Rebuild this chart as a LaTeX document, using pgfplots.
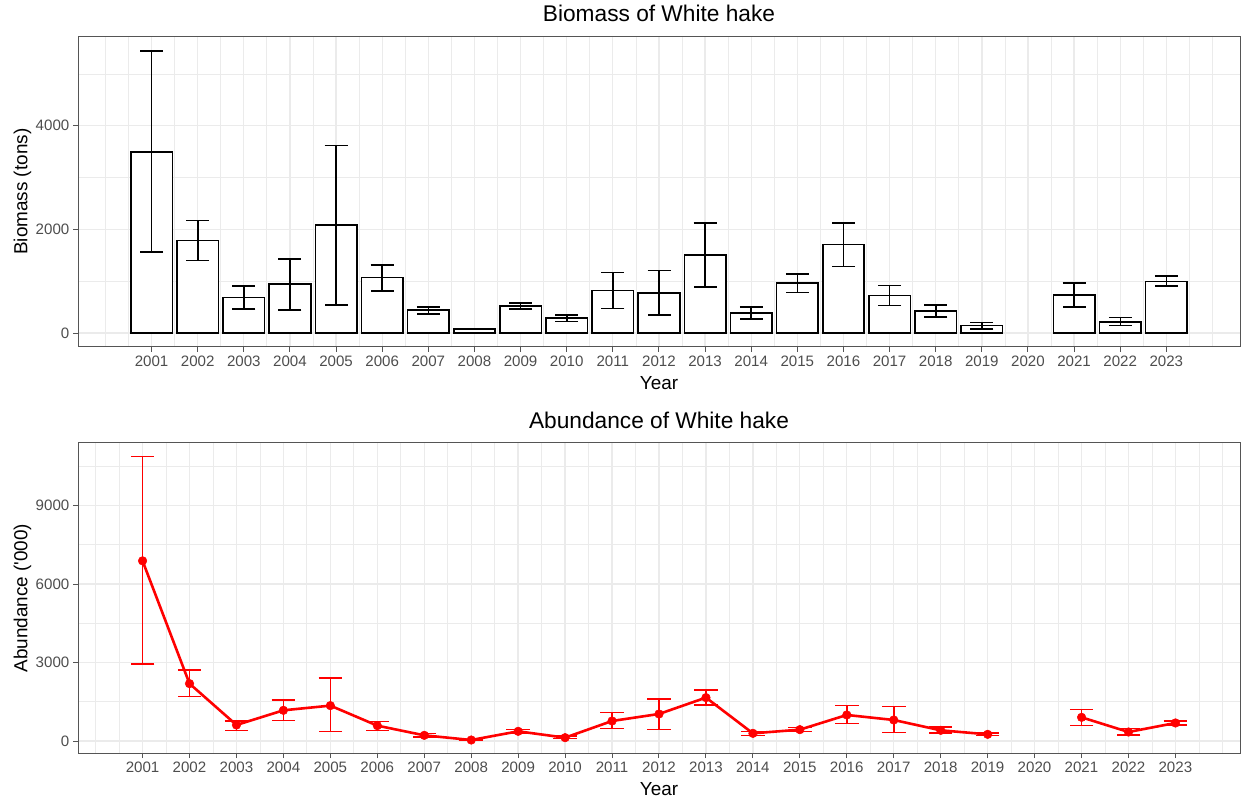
\documentclass[border=0pt]{standalone}
\usepackage{pgfplots}
\usepackage{pgfplotstable}
\pgfplotsset{compat=1.18}
\usepackage{fontspec}
\setmainfont{Liberation Sans}
\definecolor{gridc}{HTML}{EBEBEB}
\definecolor{tickc}{HTML}{4D4D4D}
\definecolor{borderc}{HTML}{555555}
\definecolor{hred}{HTML}{FF0000}

\pgfplotstableread{
year val lo hi
2001 3494 1558 5442
2002 1788 1397 2173
2003 686 462 910
2004 942 449 1430
2005 2083 545 3615
2006 1070 814 1314
2007 442 365 506
2008 77 72 82
2009 526 468 583
2010 288 224 346
2011 820 474 1167
2012 776 353 1205
2013 1500 891 2122
2014 385 269 500
2015 962 782 1141
2016 1705 1282 2128
2017 724 532 917
2018 423 314 545
2019 141 83 199
2021 731 506 962
2022 218 141 301
2023 994 904 1096
}\biomass

\pgfplotstableread{
year val lo hi
2001 6885 2933 10876
2002 2193 1696 2716
2003 612 395 765
2004 1173 778 1568
2005 1352 357 2397
2006 587 408 752
2007 217 153 293
2008 38 20 60
2009 370 293 446
2010 128 89 191
2011 765 485 1084
2012 1033 446 1607
2013 1658 1377 1951
2014 293 217 370
2015 434 357 510
2016 995 676 1352
2017 803 332 1313
2018 408 306 536
2019 255 217 306
}\abundA

\pgfplotstableread{
year val lo hi
2021 905 587 1211
2022 344 230 485
2023 689 612 765
}\abundB

\pgfplotsset{
  hake/.style={
    scale only axis, width=1162pt, height=310.6pt,
    axis line style={borderc, line width=1.0pt},
    tick style={borderc, line width=1.0pt},
    tick align=outside, major tick length=4.7pt, minor tick length=0pt,
    xtick pos=bottom, ytick pos=left,
    scaled ticks=false,
    xtick={2001,...,2023},
    minor xtick={2000,2000.5,...,2024},
    grid=both,
    major grid style={gridc, line width=1.3pt},
    minor grid style={gridc, line width=0.8pt},
    /pgf/number format/1000 sep={},
    /pgf/number format/assume math mode=true,
    ticklabel style={font=\fontsize{15.1}{18}\selectfont, text=tickc, inner sep=0pt},
    xticklabel style={yshift=-3.8pt},
    yticklabel style={xshift=-3.8pt},
    label style={font=\fontsize{18.9}{22}\selectfont},
    xlabel={Year},
    xlabel style={at={(axis description cs:0.5,0)}, anchor=base, yshift=-42.5pt},
    ylabel style={at={(axis description cs:-0.04363,0.5)}, anchor=base},
    title style={font=\fontsize{22.7}{26}\selectfont, at={(axis description cs:0.5,1)}, anchor=base, yshift=8.5pt},
  }
}

\begin{document}
\begin{tikzpicture}
\path[use as bounding box] (0,0) rectangle (1241pt,803pt);

\begin{axis}[hake,
  at={(78pt,456pt)}, anchor=south west,
  xmin=1999.405, xmax=2024.595,
  ymin=-270, ymax=5724,
  ytick={0,2000,4000}, minor ytick={1000,3000,5000},
  title={Biomass of White hake},
  ylabel={Biomass (tons)},
]
\addplot[ybar, bar width=0.9, bar shift=0pt, fill=white, draw=black, line width=1.6pt,
  error bars/.cd, y dir=both, y explicit,
  error bar style={black, line width=1.6pt},
  error mark options={black, line width=1.6pt, mark size=11.5pt, rotate=90}]
  table[x=year, y=val, y error plus expr=\thisrow{hi}-\thisrow{val}, y error minus expr=\thisrow{val}-\thisrow{lo}] {\biomass};
\end{axis}

\begin{axis}[hake,
  at={(78pt,49.7pt)}, anchor=south west,
  xmin=1999.625, xmax=2024.375,
  ymin=-470, ymax=11400,
  ytick={0,3000,6000,9000}, minor ytick={1500,4500,7500,10500},
  title={Abundance of White hake},
  ylabel={Abundance (\textquotesingle000)},
]
\addplot[hred, line width=2.6pt, mark=*, mark size=4.3pt, mark options={fill=hred, draw=hred, line width=0.5pt},
  error bars/.cd, y dir=both, y explicit,
  error bar style={hred, line width=1.6pt},
  error mark options={hred, line width=1.6pt, mark size=11.75pt, rotate=90}]
  table[x=year, y=val, y error plus expr=\thisrow{hi}-\thisrow{val}, y error minus expr=\thisrow{val}-\thisrow{lo}] {\abundA};
\addplot[hred, line width=2.6pt, mark=*, mark size=4.3pt, mark options={fill=hred, draw=hred, line width=0.5pt},
  error bars/.cd, y dir=both, y explicit,
  error bar style={hred, line width=1.6pt},
  error mark options={hred, line width=1.6pt, mark size=11.75pt, rotate=90}]
  table[x=year, y=val, y error plus expr=\thisrow{hi}-\thisrow{val}, y error minus expr=\thisrow{val}-\thisrow{lo}] {\abundB};
\end{axis}
\end{tikzpicture}
\end{document}
